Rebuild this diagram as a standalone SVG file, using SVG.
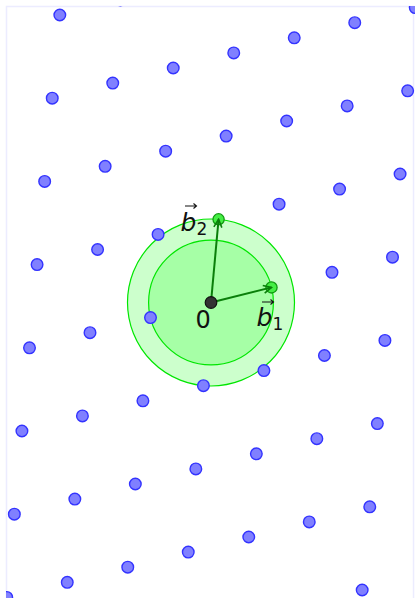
<svg xmlns="http://www.w3.org/2000/svg" width="415" height="598" viewBox="0 0 415 598">
<style>
.pt{fill:#8080ff;stroke:#3333ff;stroke-width:1.4}
.disk{stroke:#00e600;stroke-width:1.2}
.vec{stroke:#0a7f0a;stroke-width:2;fill:none}
.end{fill:#44ee44;stroke:#119911;stroke-width:1.3}
.lbl{font-family:"DejaVu Sans",sans-serif;fill:#111}
.ov{stroke:#111;stroke-width:1.1;fill:none}
</style>
<defs>
<clipPath id="frame"><rect x="6" y="6" width="409" height="592"/></clipPath>
<marker id="ah" viewBox="0 0 10 10" refX="9" refY="5" markerWidth="5" markerHeight="5" orient="auto" markerUnits="strokeWidth">
<path d="M1,1 L9,5 L1,9" fill="none" stroke="#0a7f0a" stroke-width="1.6"/>
</marker>
</defs>
<rect x="0" y="0" width="415" height="598" fill="#fff"/>
<rect x="6.5" y="6.5" width="407" height="600" fill="none" stroke="#ececff" stroke-width="1.5"/>
<g id="voronoi">
<circle class="disk" cx="211" cy="302.5" r="83.5" fill="#ccffcc"/>
<circle class="disk" cx="211" cy="302.5" r="62.4" fill="#a6ffa6"/>
</g>
<g id="lattice" clip-path="url(#frame)">
<circle class="pt" cx="29.5" cy="347.8" r="5.8"/>
<circle class="pt" cx="90" cy="332.7" r="5.8"/>
<circle class="pt" cx="150.5" cy="317.6" r="5.8"/>
<circle class="pt" cx="332" cy="272.3" r="5.8"/>
<circle class="pt" cx="392.5" cy="257.2" r="5.8"/>
<circle class="pt" cx="37.08" cy="264.6" r="5.8"/>
<circle class="pt" cx="97.58" cy="249.5" r="5.8"/>
<circle class="pt" cx="158.08" cy="234.4" r="5.8"/>
<circle class="pt" cx="279.08" cy="204.2" r="5.8"/>
<circle class="pt" cx="339.58" cy="189.1" r="5.8"/>
<circle class="pt" cx="400.08" cy="174" r="5.8"/>
<circle class="pt" cx="44.66" cy="181.4" r="5.8"/>
<circle class="pt" cx="105.16" cy="166.3" r="5.8"/>
<circle class="pt" cx="165.66" cy="151.2" r="5.8"/>
<circle class="pt" cx="226.16" cy="136.1" r="5.8"/>
<circle class="pt" cx="286.66" cy="121" r="5.8"/>
<circle class="pt" cx="347.16" cy="105.9" r="5.8"/>
<circle class="pt" cx="407.66" cy="90.8" r="5.8"/>
<circle class="pt" cx="52.24" cy="98.2" r="5.8"/>
<circle class="pt" cx="112.74" cy="83.1" r="5.8"/>
<circle class="pt" cx="173.24" cy="68" r="5.8"/>
<circle class="pt" cx="233.74" cy="52.9" r="5.8"/>
<circle class="pt" cx="294.24" cy="37.8" r="5.8"/>
<circle class="pt" cx="354.74" cy="22.7" r="5.8"/>
<circle class="pt" cx="415.24" cy="7.6" r="5.8"/>
<circle class="pt" cx="59.82" cy="15" r="5.8"/>
<circle class="pt" cx="120.32" cy="-0.1" r="5.8"/>
<circle class="pt" cx="21.92" cy="431" r="5.8"/>
<circle class="pt" cx="82.42" cy="415.9" r="5.8"/>
<circle class="pt" cx="142.92" cy="400.8" r="5.8"/>
<circle class="pt" cx="203.42" cy="385.7" r="5.8"/>
<circle class="pt" cx="263.92" cy="370.6" r="5.8"/>
<circle class="pt" cx="324.42" cy="355.5" r="5.8"/>
<circle class="pt" cx="384.92" cy="340.4" r="5.8"/>
<circle class="pt" cx="14.34" cy="514.2" r="5.8"/>
<circle class="pt" cx="74.84" cy="499.1" r="5.8"/>
<circle class="pt" cx="135.34" cy="484" r="5.8"/>
<circle class="pt" cx="195.84" cy="468.9" r="5.8"/>
<circle class="pt" cx="256.34" cy="453.8" r="5.8"/>
<circle class="pt" cx="316.84" cy="438.7" r="5.8"/>
<circle class="pt" cx="377.34" cy="423.6" r="5.8"/>
<circle class="pt" cx="6.76" cy="597.4" r="5.8"/>
<circle class="pt" cx="67.26" cy="582.3" r="5.8"/>
<circle class="pt" cx="127.76" cy="567.2" r="5.8"/>
<circle class="pt" cx="188.26" cy="552.1" r="5.8"/>
<circle class="pt" cx="248.76" cy="537" r="5.8"/>
<circle class="pt" cx="309.26" cy="521.9" r="5.8"/>
<circle class="pt" cx="369.76" cy="506.8" r="5.8"/>
<circle class="pt" cx="362.18" cy="590" r="5.8"/>
</g>
<g id="endpoints">
<circle class="end" cx="271.5" cy="287.4" r="5.6"/>
<circle class="end" cx="218.58" cy="219.3" r="5.6"/>
</g>
<g id="connectors">
<line class="vec" x1="211" y1="302.5" x2="271.5" y2="287.4" marker-end="url(#ah)"/>
<line class="vec" x1="211" y1="302.5" x2="218.58" y2="219.3" marker-end="url(#ah)"/>
</g>
<g id="origin">
<circle cx="211" cy="302.5" r="5.8" fill="#333" stroke="#111" stroke-width="1.2"/>
<text class="lbl" x="195.5" y="327.5" font-size="24">0</text>
</g>
<g id="label-b1">
<text class="lbl" x="256.5" y="326" font-size="25" font-style="italic">b<tspan font-size="17" font-style="normal" dy="4">1</tspan></text>
<path class="ov" d="M262,302 H273.5 M270.5,299.5 L273.5,302 L270.5,304.5"/>
</g>
<g id="label-b2">
<text class="lbl" x="180.5" y="231" font-size="25" font-style="italic">b<tspan font-size="17" font-style="normal" dy="4">2</tspan></text>
<path class="ov" d="M185,206 H196.5 M193.5,203.5 L196.5,206 L193.5,208.5"/>
</g>
</svg>
